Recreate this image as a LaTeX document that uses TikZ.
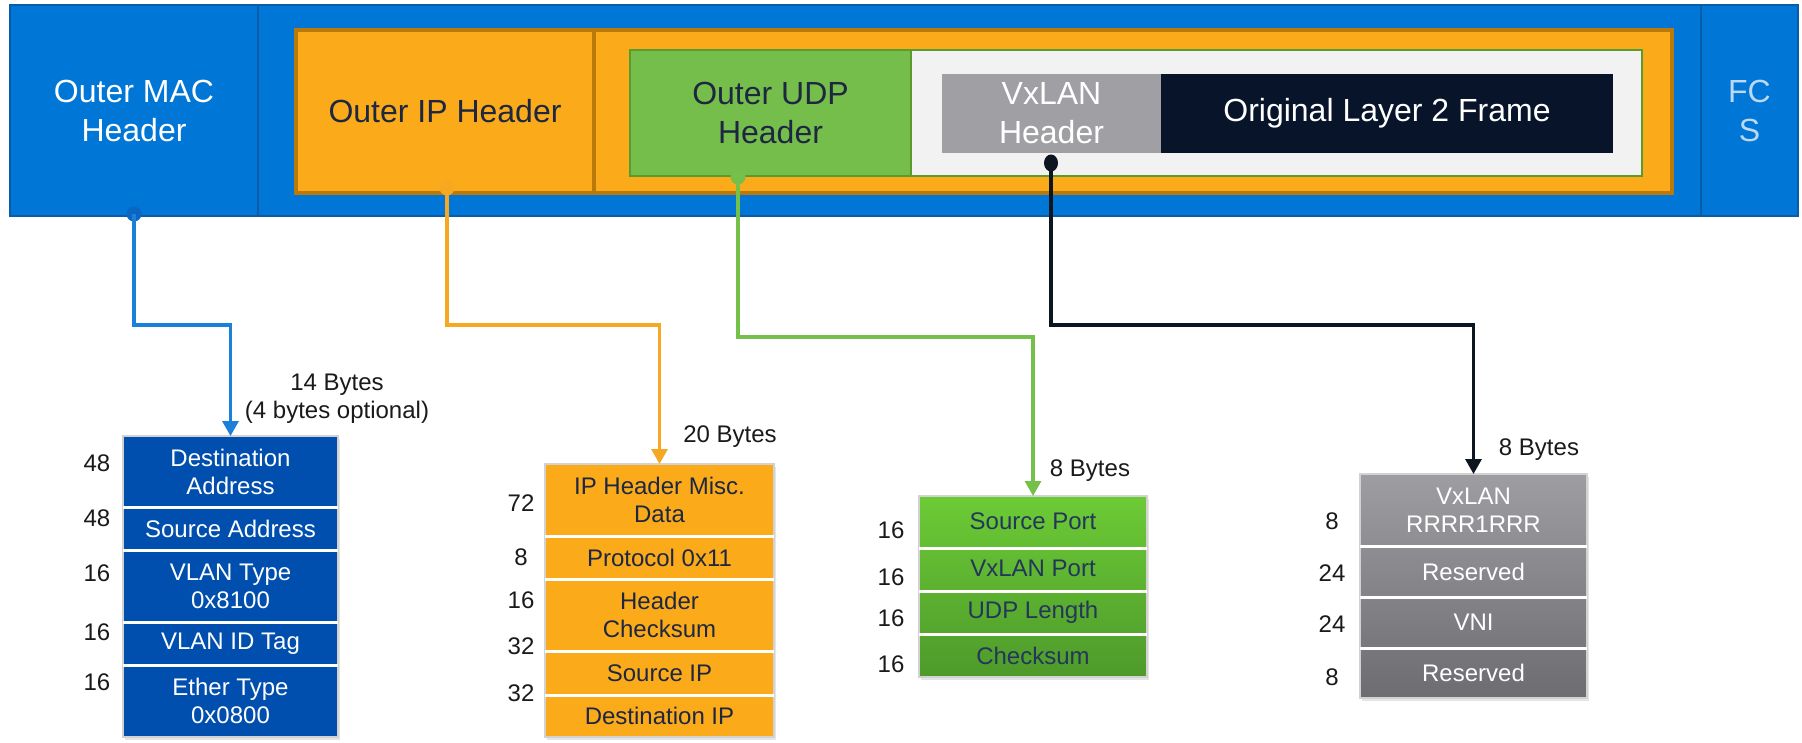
\documentclass[tikz,border=0pt]{standalone}
\usepackage{fontspec}
\setmainfont{Liberation Sans}
\usetikzlibrary{arrows.meta,shadows,shapes.geometric}

\definecolor{bandblue}{HTML}{0076D6}
\definecolor{bandedge}{HTML}{0B5CA8}
\definecolor{macblue}{HTML}{004FAE}
\definecolor{ipor}{HTML}{FBAB19}
\definecolor{ipedge}{HTML}{B97A0B}
\definecolor{udpgreen}{HTML}{76BE4B}
\definecolor{udpedge}{HTML}{5A9A2E}
\definecolor{paleback}{HTML}{F2F2F2}
\definecolor{vxgray}{HTML}{A09FA4}
\definecolor{framedark}{HTML}{07142A}
\definecolor{navytext}{HTML}{1E2742}
\definecolor{greentext}{HTML}{24365A}
\definecolor{fcstext}{HTML}{BCD8F2}
\definecolor{greentop}{HTML}{6CCB35}
\definecolor{greenbot}{HTML}{4E9A2B}
\definecolor{graytop}{HTML}{9E9DA2}
\definecolor{graybot}{HTML}{6D6C71}
\definecolor{linkblue}{HTML}{1A80DA}
\definecolor{dotblue}{HTML}{0A66C2}
\definecolor{linkorange}{HTML}{F7A823}
\definecolor{linkgreen}{HTML}{74C04A}
\definecolor{linkblack}{HTML}{0D1520}
\definecolor{labeltext}{HTML}{1A1A1A}

\begin{document}
\begin{tikzpicture}[x=1pt,y=-1pt,
  bigfont/.style={font=\fontsize{32}{39}\selectfont},
  smallfont/.style={font=\fontsize{24}{28}\selectfont},
  region/.style={rectangle, inner sep=0pt, outer sep=0pt, anchor=north west, align=center, bigfont},
  tbl/.style={rectangle, inner sep=0pt, outer sep=0pt, anchor=north west, draw=gray!35, line width=1.5pt,
    drop shadow={opacity=0.2, shadow xshift=2pt, shadow yshift=-3pt}},
  cell/.style={rectangle, inner sep=0pt, outer sep=0pt, anchor=north west, align=center, smallfont},
  bits/.style={smallfont, text=labeltext, inner sep=0pt, align=center},
  sep/.style={draw=white, line width=3pt},
  link/.style={line width=3.2pt, -{Triangle[width=16pt,length=15pt]}},
  dot/.style={circle, inner sep=0pt, minimum size=15pt},
]
\useasboundingbox (0,0) rectangle (1802,743);
\fill[white] (0,0) rectangle (1802,743);

% ---- encapsulated frame ----
\node[region, minimum width=1788pt, minimum height=211pt, fill=bandblue, draw=bandedge, line width=2pt] (band) at (10,5) {};
\node[region, minimum width=248pt, minimum height=211pt, text=white] (mac) at (10,5) {Outer MAC\\Header};
\node[region, minimum width=97pt, minimum height=211pt, text=fcstext] (fcs) at (1701,5) {FC\\S};
\draw[bandedge, line width=2pt] (mac.north east) -- (mac.south east);
\draw[bandedge, line width=2pt] (fcs.north west) -- (fcs.south west);

\node[region, minimum width=1376pt, minimum height=163pt, fill=ipor, draw=ipedge, line width=4pt] (ipbox) at (296,30) {};
\node[region, minimum width=298pt, minimum height=163pt, text=navytext] (iphdr) at (296,30) {Outer IP Header};
\draw[ipedge, line width=3.5pt] (iphdr.north east) -- (iphdr.south east);

\node[region, minimum width=1012pt, minimum height=126pt, fill=paleback, draw=udpedge, line width=2pt] (payload) at (630,50) {};
\node[region, minimum width=281pt, minimum height=126pt, fill=udpgreen, draw=udpedge, line width=2pt, text=navytext] (udphdr) at (630,50) {Outer UDP\\Header};

\node[region, minimum width=219pt, minimum height=79pt, fill=vxgray, text=white] (vxhdr) at (942,74) {VxLAN\\Header};
\node[region, minimum width=452pt, minimum height=79pt, fill=framedark, text=white] (l2frame) at (1161,74) {Original Layer 2 Frame};

% ---- anchor dots ----
\node[dot, fill=dotblue] (macdot) at (134,214) {};
\node[dot, fill=linkorange] (ipdot) at (447,188) {};
\node[dot, fill=linkgreen] (udpdot) at (738,177) {};
\node[ellipse, inner sep=0pt, minimum width=14pt, minimum height=17pt, fill=linkblack] (vxdot) at (1051,163) {};

% ---- outer MAC header fields ----
\node[tbl, fill=macblue, minimum width=215pt, minimum height=301pt] (macT) at (123,436) {};
\node[cell, text=white, minimum width=215pt, minimum height=71pt] (macDst) at (123,436) {Destination\\Address};
\node[cell, text=white, minimum width=215pt, minimum height=43pt] (macSrc) at (123,507) {Source Address};
\node[cell, text=white, minimum width=215pt, minimum height=72pt] (macVty) at (123,550) {VLAN Type\\0x8100};
\node[cell, text=white, minimum width=215pt, minimum height=43pt] (macVid) at (123,622) {VLAN ID Tag};
\node[cell, text=white, minimum width=215pt, minimum height=72pt] (macEth) at (123,665) {Ether Type\\0x0800};
\foreach \r in {macDst,macSrc,macVty,macVid} \draw[sep] (\r.south west) -- (\r.south east);

\node[bits] (macB1) at (97,463) {48};
\node[bits] (macB2) at (97,518) {48};
\node[bits] (macB3) at (97,573) {16};
\node[bits] (macB4) at (97,632) {16};
\node[bits] (macB5) at (97,682) {16};
\node[bits] (macSize) at (337,399) {14 Bytes\\(4 bytes optional)};

% ---- outer IP header fields ----
\node[tbl, fill=ipor, minimum width=229pt, minimum height=273pt] (ipT) at (545,464) {};
\node[cell, text=navytext, minimum width=229pt, minimum height=72pt] (ipMisc) at (545,464) {IP Header Misc.\\Data};
\node[cell, text=navytext, minimum width=229pt, minimum height=43pt] (ipProto) at (545,536) {Protocol 0x11};
\node[cell, text=navytext, minimum width=229pt, minimum height=72pt] (ipCsum) at (545,579) {Header\\Checksum};
\node[cell, text=navytext, minimum width=229pt, minimum height=44pt] (ipSrc) at (545,651) {Source IP};
\node[cell, text=navytext, minimum width=229pt, minimum height=42pt] (ipDst) at (545,695) {Destination IP};
\foreach \r in {ipMisc,ipProto,ipCsum,ipSrc} \draw[sep] (\r.south west) -- (\r.south east);

\node[bits] (ipB1) at (521,503) {72};
\node[bits] (ipB2) at (521,557) {8};
\node[bits] (ipB3) at (521,600) {16};
\node[bits] (ipB4) at (521,646) {32};
\node[bits] (ipB5) at (521,693) {32};
\node[bits] (ipSize) at (730,437) {20 Bytes};

% ---- outer UDP header fields ----
\node[tbl, top color=greentop, bottom color=greenbot, minimum width=228pt, minimum height=181pt] (udpT) at (919,496) {};
\node[cell, text=greentext, minimum width=228pt, minimum height=50pt] (udpSrc) at (919,496) {Source Port};
\node[cell, text=greentext, minimum width=228pt, minimum height=45pt] (udpVx) at (919,546) {VxLAN Port};
\node[cell, text=greentext, minimum width=228pt, minimum height=43pt] (udpLen) at (919,591) {UDP Length};
\node[cell, text=greentext, minimum width=228pt, minimum height=43pt] (udpCs) at (919,634) {Checksum};
\draw[sep] (919,548) -- (1147,548);
\draw[sep] (udpVx.south west) -- (udpVx.south east);
\draw[sep] (udpLen.south west) -- (udpLen.south east);

\node[bits] (udpB1) at (891,530) {16};
\node[bits] (udpB2) at (891,577) {16};
\node[bits] (udpB3) at (891,618) {16};
\node[bits] (udpB4) at (891,664) {16};
\node[bits] (udpSize) at (1090,471) {8 Bytes};

% ---- VxLAN header fields ----
\node[tbl, top color=graytop, bottom color=graybot, minimum width=227pt, minimum height=224pt] (vxT) at (1360,474) {};
\node[cell, text=white, minimum width=227pt, minimum height=72pt] (vxFlags) at (1360,474) {VxLAN\\RRRR1RRR};
\node[cell, text=white, minimum width=227pt, minimum height=51pt] (vxRes1) at (1360,546) {Reserved};
\node[cell, text=white, minimum width=227pt, minimum height=51pt] (vxVni) at (1360,597) {VNI};
\node[cell, text=white, minimum width=227pt, minimum height=50pt] (vxRes2) at (1360,648) {Reserved};
\foreach \r in {vxFlags,vxRes1,vxVni} \draw[sep] (\r.south west) -- (\r.south east);

\node[bits] (vxB1) at (1332,521) {8};
\node[bits] (vxB2) at (1332,573) {24};
\node[bits] (vxB3) at (1332,624) {24};
\node[bits] (vxB4) at (1332,677) {8};
\node[bits] (vxSize) at (1539,450) {8 Bytes};

% ---- connectors ----
\coordinate (macbend) at (134,325);
\coordinate (ipbend) at (447,325);
\coordinate (udpbend) at (738,337);
\coordinate (vxbend) at (1051,325);
\draw[link, linkblue] (macdot.center) -- (macbend) -| (macT.north);
\draw[link, linkorange] (ipdot.center) -- (ipbend) -| (ipT.north);
\draw[link, linkgreen] (udpdot.center) -- (udpbend) -| (udpT.north);
\draw[link, linkblack] (vxdot.center) -- (vxbend) -| (vxT.north);
\end{tikzpicture}
\end{document}
